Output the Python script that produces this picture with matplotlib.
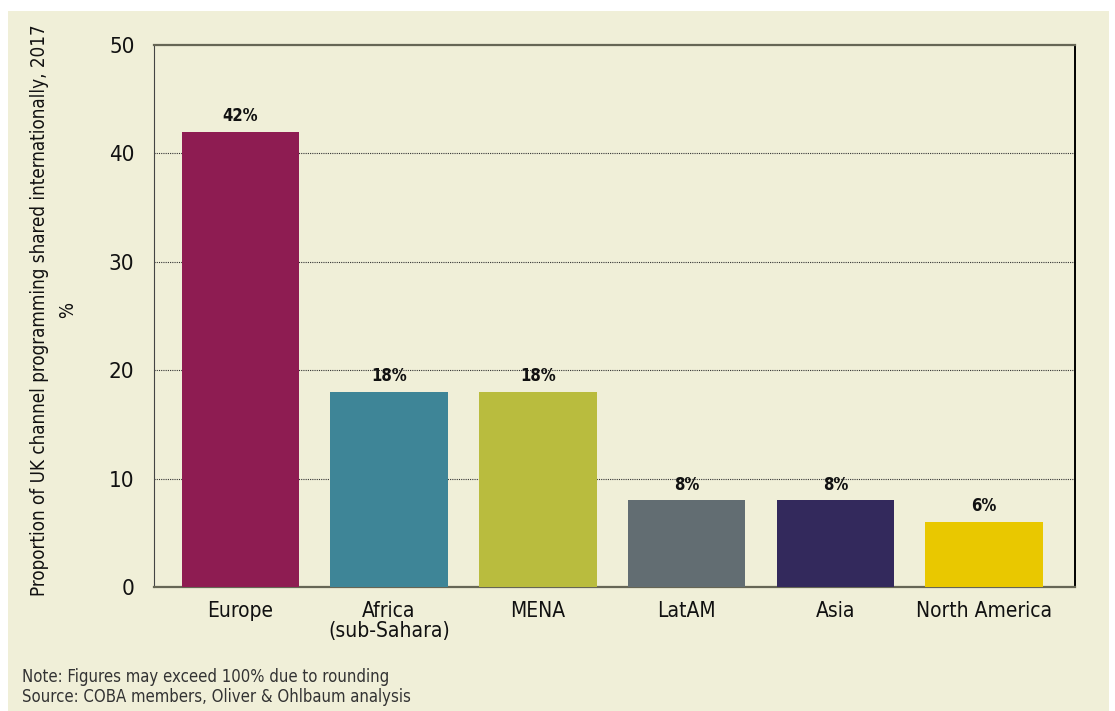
import matplotlib
matplotlib.use("Agg")
from matplotlib import pyplot as plt
from matplotlib.patches import Rectangle

regions = ["Europe", "Africa\n(sub-Sahara)", "MENA", "LatAM", "Asia", "North America"]
shares = [42, 18, 18, 8, 8, 6]
bar_colors = ["#8E1C52", "#3E8597", "#B9BC3E", "#626D72", "#33295C", "#E9C800"]
y_ticks = [0, 10, 20, 30, 40, 50]

BG = "#F0EFD8"


def main():
    """draw the regional share bar chart"""
    plt.rcParams["font.family"] = ["DejaVu Sans"]
    plt.rcParams["font.stretch"] = "condensed"
    fig = plt.figure(figsize=(11.15, 7.11), dpi=100)
    fig.patch.set_facecolor("white")
    # beige panel behind everything, leaving a thin white margin
    fig.patches.append(Rectangle((8 / 1115, 0), 1101 / 1115, 700 / 711,
                                 transform=fig.transFigure, facecolor=BG,
                                 edgecolor="none", zorder=-10))

    ax = fig.add_axes([154 / 1115, 1 - 587 / 711, 921 / 1115, 542 / 711])
    ax.set_facecolor(BG)

    x = range(len(regions))
    bars = ax.bar(x, shares, width=0.79, color=bar_colors, zorder=3)
    for b, v in zip(bars, shares):
        ax.text(b.get_x() + b.get_width() / 2, v + 0.6, f"{v:.0f}%",
                ha="center", va="bottom", fontsize=12, fontweight="bold",
                color="#111111", zorder=4)

    ax.set_xlim(-0.58, 5.61)
    ax.set_ylim(0, 50)
    ax.set_yticks(y_ticks)
    ax.set_yticklabels([str(t) for t in y_ticks], fontsize=16)
    ax.set_xticks(list(x))
    ax.set_xticklabels(regions, fontsize=15, linespacing=1.0)
    ax.tick_params(axis="both", length=0, pad=10, colors="#111111")
    ax.tick_params(axis="y", pad=14)

    for t in y_ticks[1:-1]:
        ax.axhline(t, color="#333333", linestyle=(0, (1, 1)), linewidth=0.8,
                   zorder=1)

    ax.spines["left"].set_color("#444444")
    ax.spines["bottom"].set_color("#666655")
    ax.spines["bottom"].set_linewidth(1.6)
    ax.spines["top"].set_color("#666655")
    ax.spines["top"].set_linewidth(1.6)
    ax.spines["right"].set_color("#000000")
    ax.spines["right"].set_linewidth(1.4)

    fig.text(54 / 1115, 1 - 310 / 711,
             "Proportion of UK channel programming shared internationally, 2017\n%",
             rotation=90, ha="center", va="center", fontsize=13.5,
             color="#111111", linespacing=1.6)

    fig.text(22 / 1115, 1 - 687 / 711,
             "Note: Figures may exceed 100% due to rounding\n"
             "Source: COBA members, Oliver & Ohlbaum analysis",
             ha="left", va="center", fontsize=12, color="#333333",
             linespacing=1.2)

    fig.savefig("out.png", dpi=100, facecolor=fig.get_facecolor())


if __name__ == "__main__":
    main()
